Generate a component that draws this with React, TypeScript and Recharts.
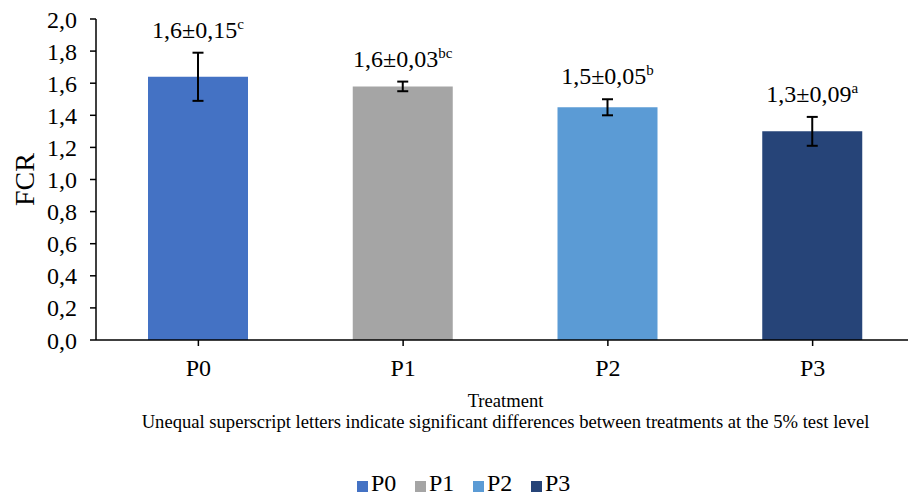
import React from 'react';
import { BarChart, Bar, XAxis, YAxis, ErrorBar, Cell, LabelList, Label } from 'recharts';

const categories = ['P0', 'P1', 'P2', 'P3'];
const fcrMeans = [1.64, 1.58, 1.45, 1.3];
const fcrErrors = [0.15, 0.03, 0.05, 0.09];
const meanLabels = ['1,6', '1,6', '1,5', '1,3'];
const errorLabels = ['0,15', '0,03', '0,05', '0,09'];
const letters = ['c', 'bc', 'b', 'a'];
const barColors = ['#4472C4', '#A5A5A5', '#5B9BD5', '#264478'];
const yTicks = [0, 0.2, 0.4, 0.6, 0.8, 1.0, 1.2, 1.4, 1.6, 1.8, 2.0];
const yAxisTitle = 'FCR';
const xAxisTitle = 'Treatment';
const footnote = 'Unequal superscript letters indicate significant differences between treatments at the 5% test level';

const data = categories.map((c, i) => ({ name: c, value: fcrMeans[i], err: fcrErrors[i] }));

const FONT = '"Liberation Serif", "Times New Roman", serif';

const BarLabel = (props: any) => {
  const { x, y, width, height, value, index } = props;
  const cx = Number(x) + Number(width) / 2;
  const pxPerUnit = Number(height) / Number(value);
  const errTop = Number(y) - fcrErrors[index] * pxPerUnit;
  return (
    <text x={cx} y={errTop - 15} textAnchor="middle" fontSize={24} fontFamily={FONT} fill="#000">
      {meanLabels[index]}±{errorLabels[index]}
      <tspan dy={-9} fontSize={15}>{letters[index]}</tspan>
    </text>
  );
};

const XTitle = (props: any) => {
  const vb = props.viewBox || {};
  const cx = vb.x + vb.width / 2;
  return (
    <g>
      <text x={cx} y={vb.y + 67} textAnchor="middle" fontSize={18.6} fontFamily={FONT} fill="#000">{xAxisTitle}</text>
      <text x={cx} y={vb.y + 88} textAnchor="middle" fontSize={18.6} fontFamily={FONT} fill="#000">{footnote}</text>
    </g>
  );
};

const YTitle = (props: any) => {
  const vb = props.viewBox || {};
  const cx = 24;
  const cy = vb.y + vb.height / 2;
  return (
    <text x={cx} y={cy} transform={`rotate(-90, ${cx}, ${cy})`} textAnchor="middle" dominantBaseline="central" fontSize={28} fontFamily={FONT} fill="#000">
      {yAxisTitle}
    </text>
  );
};

const fmt = (v: number) => v.toFixed(1).replace('.', ',');

export default function App() {
  return (
    <div style={{ position: 'absolute', left: 0, top: 0, width: 908, height: 495, overflow: 'hidden', background: '#fff' }}>
      <BarChart
        width={930}
        height={495}
        data={data}
        margin={{ top: 19, right: 15, left: 0, bottom: 95 }}
        style={{ fontFamily: FONT }}
      >
        <XAxis
          dataKey="name"
          height={60}
          axisLine={{ stroke: '#000', strokeWidth: 1.5 }}
          tickLine={{ stroke: '#000', strokeWidth: 1.5 }}
          tickSize={6}
          tickMargin={13}
          tick={{ fill: '#000', fontSize: 24, fontFamily: FONT }}
          interval={0}
        >
          <Label content={<XTitle />} />
        </XAxis>
        <YAxis
          width={96}
          domain={[0, 2]}
          ticks={yTicks}
          tickFormatter={fmt}
          axisLine={{ stroke: '#000', strokeWidth: 1.5 }}
          tickLine={{ stroke: '#000', strokeWidth: 1.5 }}
          tickSize={6}
          tickMargin={13}
          tick={{ fill: '#000', fontSize: 24, fontFamily: FONT }}
          interval={0}
        >
          <Label content={<YTitle />} />
        </YAxis>
        <Bar dataKey="value" barSize={100} isAnimationActive={false}>
          {data.map((d, i) => (
            <Cell key={d.name} fill={barColors[i]} />
          ))}
          <ErrorBar dataKey="err" width={5.5} stroke="#000" strokeWidth={2} direction="y" />
          <LabelList dataKey="value" content={<BarLabel />} />
        </Bar>
      </BarChart>
      <svg width={908} height={495} style={{ position: 'absolute', left: 0, top: 0, pointerEvents: 'none' }}>
        {categories.map((c, i) => {
          const x0 = 357 + i * 58;
          return (
            <g key={c}>
              <rect x={x0} y={481} width={11} height={11} fill={barColors[i]} />
              <text x={x0 + 14} y={491} fontSize={24} fontFamily={FONT} fill="#000">{c}</text>
            </g>
          );
        })}
      </svg>
    </div>
  );
}
